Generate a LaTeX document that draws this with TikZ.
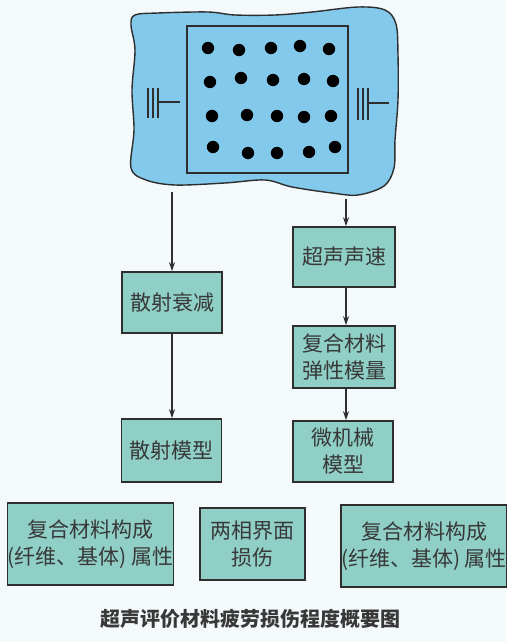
\documentclass[tikz,border=0pt]{standalone}
\usepackage{fontspec}
\newfontfamily\cjk{Noto Sans CJK SC}
\usetikzlibrary{arrows.meta}
\definecolor{pagebg}{HTML}{F4F9FB}
\definecolor{plate}{HTML}{82C9EB}
\definecolor{boxfill}{HTML}{8FCFC6}
\definecolor{ink}{HTML}{2E2E2E}
\definecolor{txt}{HTML}{383838}
\tikzset{
  flowbox/.style={draw=ink, line width=1.6pt, fill=boxfill, inner sep=0pt,
    align=center, text=txt, font=\cjk\fontsize{21}{27}\selectfont},
  flowarrow/.style={draw=ink, line width=1.1pt, -{Stealth[length=9pt,width=6pt]}},
  fibre/.style={fill=black, radius=6.2},
  probe/.style={draw=ink, line width=1.1pt},
}
\begin{document}
\begin{tikzpicture}[x=1pt,y=-1pt]
\useasboundingbox (0,0) rectangle (506,642);
\fill[pagebg] (0,0) rectangle (506,642);

% composite plate outline
\draw[ink, line width=1.4pt, fill=plate] plot[smooth cycle, tension=0.55] coordinates {
  (135,15) (158,13) (208,12) (235,15) (275,15) (312,12) (358,7) (385,10)
  (396,24) (398,55) (398,100) (395,140) (394,168) (384,186) (358,195)
  (332,193) (292,187) (265,180) (225,183) (175,185) (146,180) (131,168)
  (134,130) (132,90) (135,50) (131,25)};

% specimen square
\draw[ink, line width=1.4pt] (187,26) rectangle (348,173);

% fibre cross-sections
\foreach \p in {(208,48),(239,50),(271,48),(300,46),(329,49),
                (210,82),(241,78),(273,80),(304,79),(333,81),
                (212,116),(247,115),(277,116),(304,117),(331,116),
                (213,147),(248,153),(277,153),(309,152),(335,147)}
  \fill[fibre] \p circle;

% transducers
\draw[probe] (148,88) -- (148,118) (153,88) -- (153,118) (158,88) -- (158,118)
  (158,102) -- (180,102);
\draw[probe] (358,88) -- (358,120) (363,88) -- (363,120) (368,88) -- (368,120)
  (368,103) -- (389,103);

\coordinate (plateL) at (172,192);
\coordinate (plateR) at (346,199);

% flow boxes
\node[flowbox, minimum width=100pt, minimum height=61pt] (atten) at (172,302.5) {散射衰减};
\node[flowbox, minimum width=100pt, minimum height=63pt] (scatter) at (171.5,450.5) {散射模型};
\node[flowbox, minimum width=102pt, minimum height=60pt] (speed) at (344,257) {超声声速};
\node[flowbox, minimum width=102pt, minimum height=62pt] (modulus) at (344,357) {复合材料\\弹性模量};
\node[flowbox, minimum width=100pt, minimum height=61pt] (micro) at (343,451.5) {微机械\\模型};

\node[flowbox, minimum width=165pt, minimum height=82pt] (propL) at (90.5,544) {复合材料构成\\(纤维、基体) 属性};
\node[flowbox, minimum width=105pt, minimum height=72pt] (interface) at (252.5,544) {两相界面\\损伤};
\node[flowbox, minimum width=162pt, minimum height=82pt] (propR) at (424,546) {复合材料构成\\(纤维、基体) 属性};

% connectors
\draw[flowarrow] (plateL) -- (plateL |- atten.north);
\draw[flowarrow] (atten.south -| plateL) -- (plateL |- scatter.north);
\draw[flowarrow] (plateR) -- (plateR |- speed.north);
\draw[flowarrow] (speed.south -| plateR) -- (plateR |- modulus.north);
\draw[flowarrow] (modulus.south -| plateR) -- (plateR |- micro.north);

% caption
\node[text=txt, font=\cjk\bfseries\fontsize{20}{24}\selectfont] (caption) at (250,619) {超声评价材料疲劳损伤程度概要图};
\end{tikzpicture}
\end{document}
